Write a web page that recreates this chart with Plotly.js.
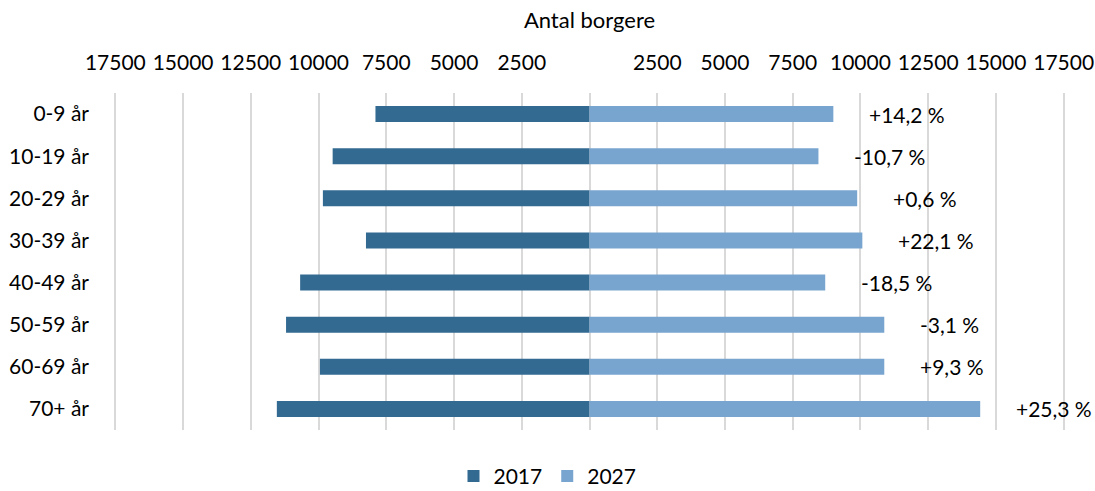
<!DOCTYPE html>
<html><head><meta charset="utf-8">
<script src="https://cdn.plot.ly/plotly-3.0.1.min.js"></script>
<style>html,body{margin:0;padding:0;background:#fff}#chart{width:1095px;height:491px}</style>
</head><body><div id="chart"></div>
<script>
const ageGroups = ["0-9 år","10-19 år","20-29 år","30-39 år","40-49 år","50-59 år","60-69 år","70+ år"];
const pop2017 = [7900, 9480, 9840, 8250, 10680, 11200, 9950, 11540];
const pop2027 = [9000, 8450, 9880, 10070, 8700, 10880, 10880, 14420];
const changeLabels = ["+14,2 %","-10,7 %","+0,6 %","+22,1 %","-18,5 %","-3,1 %","+9,3 %","+25,3 %"];
const tickValues = [-17500,-15000,-12500,-10000,-7500,-5000,-2500,0,2500,5000,7500,10000,12500,15000,17500];
const tickLabels = tickValues.map(v => v === 0 ? "" : String(Math.abs(v)));

const font = "Lato, 'Open Sans', sans-serif";
const fs = 21;
const traces = [
  {type:"bar", orientation:"h", name:"2017", y:ageGroups, x:pop2017.map(v=>-v),
   marker:{color:"#336a92"}, hoverinfo:"skip"},
  {type:"bar", orientation:"h", name:"2027", y:ageGroups, x:pop2027,
   marker:{color:"#78a5cf"}, hoverinfo:"skip"}
];
const annotations = ageGroups.map((g,i)=>({
  x: pop2027[i], y: g, xref:"x", yref:"y", text: changeLabels[i],
  showarrow:false, xanchor:"left", xshift:34, font:{family:font, size:fs, color:"#000"}
}));
const layout = {
  width:1095, height:491,
  margin:{l:114, r:30, t:93, b:61},
  paper_bgcolor:"#fff", plot_bgcolor:"#fff",
  barmode:"overlay", bargap:0.62,
  showlegend:true,
  legend:{orientation:"h", x:0.5, xanchor:"center", xref:"container", y:0.03, yref:"container", yanchor:"middle",
          font:{family:font, size:fs, color:"#000"}, traceorder:"normal"},
  font:{family:font, size:fs, color:"#000"},
  xaxis:{side:"top", range:[-17550,17550], tickvals:tickValues, ticktext:tickLabels,
         showgrid:true, gridcolor:"#d9d9d9", gridwidth:2, zeroline:false, showline:false,
         ticks:"", ticklabelstandoff:18, tickfont:{family:font, size:fs, color:"#000"},
         title:{text:"Antal borgere", font:{family:font, size:22, color:"#000"}, standoff:14},
         fixedrange:true},
  yaxis:{type:"category", autorange:"reversed", showgrid:false, zeroline:false, showline:false,
         ticks:"", ticklabelstandoff:24, tickfont:{family:font, size:fs, color:"#000"}, fixedrange:true},
  annotations: annotations
};
Plotly.newPlot("chart", traces, layout, {displayModeBar:false, staticPlot:true});
</script></body></html>
